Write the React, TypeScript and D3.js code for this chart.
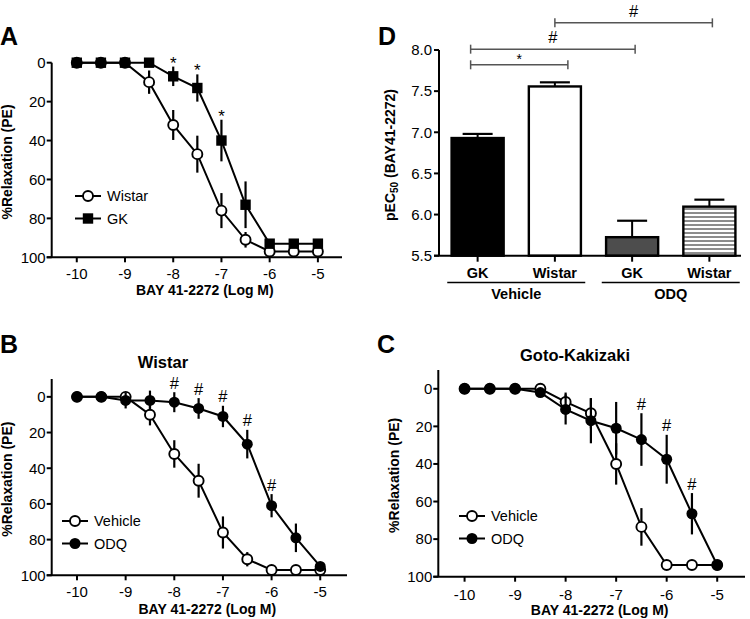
import React from "react";
import * as d3 from "d3";

// ---------- Data ----------
const doses = [-10, -9.5, -9, -8.5, -8, -7.5, -7, -6.5, -6, -5.5, -5];
const xTickValues = [-10, -9, -8, -7, -6, -5];
const yTickValues = [0, 20, 40, 60, 80, 100];

// Panel A
const aWistar = [0, 0, 0, 10, 32, 47, 76, 91, 97, 97, 97];
const aWistarErr = [0, 0, 0, 6, 7.7, 9.5, 9, 4, 1, 0, 0];
const aGK = [0, 0, 0, 0, 7, 13, 40, 73, 93, 93, 93];
const aGKErr = [0, 0, 0, 0, 5, 7, 10.7, 12, 0, 0, 0];
const aStarDoses = [-8, -7.5, -7];

// Panel B (Wistar)
const bVehicle = [0, 0, 0, 10, 32, 47, 76, 91, 97, 97, 97];
const bVehicleErr = [0, 0, 0, 6, 7.7, 9.5, 9, 4, 1, 0, 0];
const bODQ = [0, 0, 2, 2, 3, 6.5, 11, 26.5, 61, 79, 95];
const bODQErr = [0, 0, 4.5, 5.5, 5.6, 5.8, 6, 8, 6.5, 8, 1.5];
const bHashDoses = [-8, -7.5, -7, -6.5, -6];

// Panel C (Goto-Kakizaki)
const cVehicle = [0, 0, 0, 0, 7, 13, 40, 73.5, 93.8, 93.8, 93.8];
const cVehicleErr = [0, 0, 0, 0, 5, 8, 11, 10, 0, 0, 0];
const cODQ = [0, 0, 0, 2, 11, 17, 21, 27, 37.5, 66.5, 93.8];
const cODQErr = [0, 0, 0, 2, 8, 12, 14, 14, 13, 11, 0];
const cHashDoses = [-6.5, -6, -5.5];

// Panel D
const dCategories = ["GK", "Wistar", "GK ", "Wistar "];
const dLabels = ["GK", "Wistar", "GK", "Wistar"];
const dValues = [6.93, 7.557, 5.725, 6.096];
const dErrors = [0.05, 0.05, 0.2, 0.085];
const dGroups = ["Vehicle", "ODQ"];
const dYTicks = [5.5, 6.0, 6.5, 7.0, 7.5, 8.0];
const dBracketFrom = [0, 0, 1];
const dBracketTo = [1, 2, 3];
const dBracketLevel = [7.82, 8.01, 8.33];
const dBracketLabel = ["*", "#", "#"];

const FONT = "'Liberation Sans', Arial, Helvetica, sans-serif";

type Series = {
  values: number[];
  errors: number[];
  marker: "open" | "square" | "filled";
  label: string;
};

type PanelProps = {
  letter: string;
  letterX: number;
  letterY: number;
  title?: string;
  titleX?: number;
  titleY?: number;
  x0: number;
  x1: number;
  xd0: number;
  xd1: number;
  yTop: number;
  yBottom: number;
  yd0: number;
  series: Series[];
  annotDoses: number[];
  annotSeries: number;
  annotChar: string;
  legendX: number;
  legendY: number;
  ylabelX: number;
  tickLabelY: number;
  axisTitleY: number;
};

function Marker({ type, x, y }: { type: string; x: number; y: number }) {
  if (type === "square") {
    return <rect x={x - 5.2} y={y - 5.2} width={10.4} height={10.4} fill="#000" />;
  }
  if (type === "filled") {
    return <circle cx={x} cy={y} r={5.5} fill="#000" />;
  }
  return <circle cx={x} cy={y} r={5} fill="#fff" stroke="#000" strokeWidth={1.9} />;
}

function CurvePanel(p: PanelProps) {
  const x = d3.scaleLinear().domain([p.xd0, p.xd1]).range([p.x0, p.x1]);
  const y = d3.scaleLinear().domain([p.yd0, 100]).range([p.yTop, p.yBottom]);
  const line = d3
    .line<number>()
    .x((_, i) => x(doses[i]))
    .y((v) => y(v));
  const ax = p.x0;
  const ay = p.yBottom;
  const annSeries = p.series[p.annotSeries];
  return (
    <g fontFamily={FONT}>
      <text x={p.letterX} y={p.letterY} fontSize={25} fontWeight="bold">
        {p.letter}
      </text>
      {p.title && (
        <text x={p.titleX} y={p.titleY} fontSize={16.5} fontWeight="bold" textAnchor="middle">
          {p.title}
        </text>
      )}
      <line x1={ax} x2={ax} y1={p.yTop} y2={ay} stroke="#000" strokeWidth={2} />
      <line x1={ax - 5} x2={p.x1} y1={ay} y2={ay} stroke="#000" strokeWidth={2} />
      {yTickValues.map((t) => (
        <g key={t}>
          <line x1={ax - 5} x2={ax} y1={y(t)} y2={y(t)} stroke="#000" strokeWidth={2} />
          <text x={ax - 6} y={y(t) + 5.3} fontSize={15} textAnchor="end">
            {t}
          </text>
        </g>
      ))}
      {xTickValues.map((t) => (
        <g key={t}>
          <line x1={x(t)} x2={x(t)} y1={ay} y2={ay + 5} stroke="#000" strokeWidth={2} />
          <text x={x(t)} y={p.tickLabelY} fontSize={15} textAnchor="middle">
            {t}
          </text>
        </g>
      ))}
      <text
        x={(p.x0 + p.x1) / 2 + 8}
        y={p.axisTitleY}
        fontSize={14}
        fontWeight="bold"
        textAnchor="middle"
      >
        BAY 41-2272 (Log M)
      </text>
      <text
        transform={`translate(${p.ylabelX},${(p.yTop + p.yBottom) / 2 + 2}) rotate(-90)`}
        fontSize={14}
        fontWeight="bold"
        textAnchor="middle"
      >
        %Relaxation (PE)
      </text>
      {p.series.map((s, si) => (
        <g key={si}>
          <path d={line(s.values) || ""} fill="none" stroke="#000" strokeWidth={2} />
          {s.values.map((v, i) =>
            s.errors[i] > 0 ? (
              <line
                key={i}
                x1={x(doses[i])}
                x2={x(doses[i])}
                y1={y(v - s.errors[i])}
                y2={y(v + s.errors[i])}
                stroke="#000"
                strokeWidth={2.2}
              />
            ) : null
          )}
          {s.values.map((v, i) => (
            <Marker key={"m" + i} type={s.marker} x={x(doses[i])} y={y(v)} />
          ))}
        </g>
      ))}
      {p.annotDoses.map((d) => {
        const i = doses.indexOf(d);
        const top = annSeries.values[i] - annSeries.errors[i];
        const star = p.annotChar === "*";
        return (
          <text
            key={d}
            x={x(d)}
            y={y(top) - (star ? -2 : 3.5)}
            fontSize={star ? 17 : 16.5}
            textAnchor="middle"
          >
            {p.annotChar}
          </text>
        );
      })}
      {p.series.map((s, si) => (
        <g key={"lg" + si}>
          <line
            x1={p.legendX - 13}
            x2={p.legendX + 13}
            y1={p.legendY + si * 22.5}
            y2={p.legendY + si * 22.5}
            stroke="#000"
            strokeWidth={2}
          />
          <Marker type={s.marker} x={p.legendX} y={p.legendY + si * 22.5} />
          <text x={p.legendX + 19} y={p.legendY + si * 22.5 + 5.3} fontSize={14.5}>
            {s.label}
          </text>
        </g>
      ))}
    </g>
  );
}

function BarPanel() {
  const y = d3.scaleLinear().domain([5.5, 8.0]).range([255.7, 50]);
  const xb = d3
    .scaleBand<string>()
    .domain(dCategories)
    .range([439, 748])
    .paddingInner(0.3)
    .paddingOuter(0.15);
  const bw = xb.bandwidth();
  const cx = (i: number) => (xb(dCategories[i]) as number) + bw / 2;
  const axisY = y(5.5);
  const fills = ["#000", "#fff", "#4d4d4d", "url(#stripes)"];
  return (
    <g fontFamily={FONT}>
      <defs>
        <pattern id="stripes" patternUnits="userSpaceOnUse" width={8} height={4}>
          <rect width={8} height={4} fill="#fff" />
          <line x1={0} x2={8} y1={1} y2={1} stroke="#000" strokeWidth={0.9} />
        </pattern>
      </defs>
      <text x={378} y={45} fontSize={25} fontWeight="bold">
        D
      </text>
      <text
        transform={`translate(${395},${155}) rotate(-90)`}
        fontSize={14}
        fontWeight="bold"
        textAnchor="middle"
      >
        pEC
        <tspan fontSize={10} dy={3}>
          50
        </tspan>
        <tspan dy={-3}> (BAY41-2272)</tspan>
      </text>
      {dValues.map((v, i) => (
        <g key={i}>
          <line
            x1={cx(i)}
            x2={cx(i)}
            y1={y(v)}
            y2={y(v + dErrors[i])}
            stroke="#000"
            strokeWidth={2}
          />
          <line
            x1={cx(i) - 15}
            x2={cx(i) + 15}
            y1={y(v + dErrors[i])}
            y2={y(v + dErrors[i])}
            stroke="#000"
            strokeWidth={2.2}
          />
          <rect
            x={(xb(dCategories[i]) as number) + 1}
            y={y(v)}
            width={bw - 2}
            height={axisY - y(v)}
            fill={fills[i]}
            stroke="#000"
            strokeWidth={2.4}
          />
          <line x1={cx(i)} x2={cx(i)} y1={axisY} y2={axisY + 6} stroke="#000" strokeWidth={2} />
          <text x={cx(i)} y={277.5} fontSize={14.5} fontWeight="bold" textAnchor="middle">
            {dLabels[i]}
          </text>
        </g>
      ))}
      <line x1={439} x2={439} y1={y(8.0)} y2={axisY} stroke="#000" strokeWidth={2} />
      <line x1={434} x2={741} y1={axisY} y2={axisY} stroke="#000" strokeWidth={2} />
      {dYTicks.map((t) => (
        <g key={t}>
          <line x1={434} x2={439} y1={y(t)} y2={y(t)} stroke="#000" strokeWidth={2} />
          <text x={432} y={y(t) + 5.3} fontSize={15} textAnchor="end">
            {t.toFixed(1)}
          </text>
        </g>
      ))}
      {dGroups.map((g, gi) => {
        const c = (cx(gi * 2) + cx(gi * 2 + 1)) / 2;
        return (
          <g key={g}>
            <line x1={c - 69} x2={c + 69} y1={282.5} y2={282.5} stroke="#000" strokeWidth={1.6} />
            <text x={c} y={298.5} fontSize={14.5} fontWeight="bold" textAnchor="middle">
              {g}
            </text>
          </g>
        );
      })}
      {dBracketFrom.map((f, k) => {
        const xa = cx(f) - (f === 0 ? 7 : 0);
        const xz = cx(dBracketTo[k]) + (k === 0 ? 13 : 3);
        const yy = y(dBracketLevel[k]);
        const star = dBracketLabel[k] === "*";
        return (
          <g key={k}>
            <line x1={xa} x2={xz} y1={yy} y2={yy} stroke="#555" strokeWidth={1.5} />
            <line x1={xa} x2={xz - (xz - xa)} y1={yy - 4.5} y2={yy + 4.5} stroke="#555" strokeWidth={1.5} />
            <line x1={xz} x2={xz} y1={yy - 4.5} y2={yy + 4.5} stroke="#555" strokeWidth={1.5} />
            <text
              x={(xa + xz) / 2}
              y={yy - (star ? 1 : 6)}
              fontSize={star ? 14 : 16.5}
              textAnchor="middle"
            >
              {dBracketLabel[k]}
            </text>
          </g>
        );
      })}
    </g>
  );
}

export default function App() {
  return (
    <svg
      width={750}
      height={619}
      style={{ position: "absolute", left: 0, top: 0, background: "#fff" }}
    >
      <rect width={750} height={619} fill="#fff" />
      <CurvePanel
        letter="A"
        letterX={0}
        letterY={45}
        x0={51.7}
        x1={342}
        xd0={-10.52}
        xd1={-4.5}
        yTop={62.7}
        yBottom={257.3}
        yd0={0}
        series={[
          { values: aWistar, errors: aWistarErr, marker: "open", label: "Wistar" },
          { values: aGK, errors: aGKErr, marker: "square", label: "GK" },
        ]}
        annotDoses={aStarDoses}
        annotSeries={1}
        annotChar="*"
        legendX={88}
        legendY={196}
        ylabelX={12}
        tickLabelY={278.5}
        axisTitleY={295}
      />
      <CurvePanel
        letter="B"
        letterX={0}
        letterY={353}
        title="Wistar"
        titleX={163}
        titleY={368}
        x0={51.7}
        x1={347}
        xd0={-10.52}
        xd1={-4.45}
        yTop={379}
        yBottom={575.3}
        yd0={-10}
        series={[
          { values: bVehicle, errors: bVehicleErr, marker: "open", label: "Vehicle" },
          { values: bODQ, errors: bODQErr, marker: "filled", label: "ODQ" },
        ]}
        annotDoses={bHashDoses}
        annotSeries={1}
        annotChar="#"
        legendX={75}
        legendY={521}
        ylabelX={12}
        tickLabelY={597}
        axisTitleY={614}
      />
      <CurvePanel
        letter="C"
        letterX={377}
        letterY={353}
        title="Goto-Kakizaki"
        titleX={575}
        titleY={361}
        x0={438.3}
        x1={745}
        xd0={-10.52}
        xd1={-4.45}
        yTop={370}
        yBottom={576.7}
        yd0={-10}
        series={[
          { values: cVehicle, errors: cVehicleErr, marker: "open", label: "Vehicle" },
          { values: cODQ, errors: cODQErr, marker: "filled", label: "ODQ" },
        ]}
        annotDoses={cHashDoses}
        annotSeries={1}
        annotChar="#"
        legendX={472}
        legendY={516}
        ylabelX={399}
        tickLabelY={600}
        axisTitleY={615}
      />
      <BarPanel />
    </svg>
  );
}
